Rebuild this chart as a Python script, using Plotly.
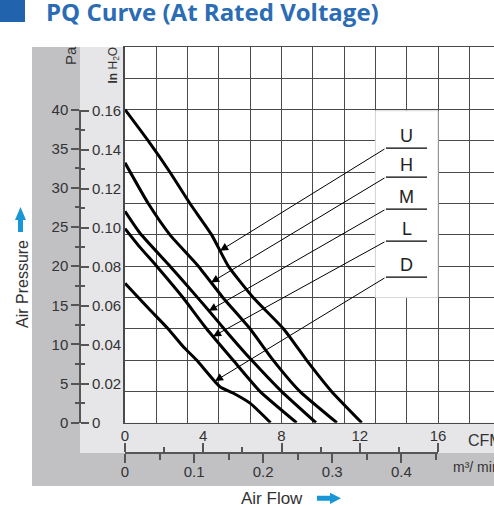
import numpy as np
import plotly.graph_objects as go

# ---------------- data ----------------
curve_names = ["U", "H", "M", "L", "D"]

u_flow = [0, 1.19, 2.3, 3.32, 4.43, 5.28, 6.55, 8.1, 9.28, 10.56, 12.1]
u_pressure = [40, 36, 32, 28, 24, 20, 16, 12, 8, 4, 0]

h_flow = [0, 1.19, 2.3, 3.75, 5.0, 6.39, 7.57, 8.94, 10.83]
h_pressure = [33.2, 28, 24, 20, 16, 12, 8, 4, 0]

m_flow = [0, 0.77, 2.3, 3.15, 4.29, 5.2, 6.47, 8.0, 9.76]
m_pressure = [27, 24.2, 20, 17.6, 14.3, 11.6, 8, 4, 0]

l_flow = [0, 0.77, 1.62, 2.96, 4.17, 5.52, 6.9, 8.77]
l_pressure = [24.8, 22.4, 20, 16, 12, 8, 4, 0]

d_flow = [0, 1.28, 2.2, 2.98, 3.66, 4.85, 5.52, 6.39, 7.44]
d_pressure = [17.8, 14.4, 12, 9.7, 8, 4.6, 3.8, 2.5, 0]

pa_ticks = [0, 5, 10, 15, 20, 25, 30, 35, 40]
inh2o_ticks = [0, 0.02, 0.04, 0.06, 0.08, 0.10, 0.12, 0.14, 0.16]
inh2o_labels = ["0", "0.02", "0.04", "0.06", "0.08", "0.10", "0.12", "0.14", "0.16"]
cfm_ticks = [0, 4, 8, 12, 16]
m3_ticks = [0, 0.1, 0.2, 0.3, 0.4]
m3_labels = ["0", "0.1", "0.2", "0.3", "0.4"]

PA_PER_INH2O = 249.0889
M3MIN_PER_CFM = 0.0283168

# ---------------- layout geometry (pixels) ----------------
FIG_W, FIG_H = 494, 505
ML, MT, MR, MB = 32, 47, 0, 19
PW, PH = FIG_W - ML - MR, FIG_H - MT - MB


def px(x):
    return (x - ML) / PW


def py(y):
    return (FIG_H - MB - y) / PH


X_LEFT, Y_BOTTOM = 125, 422.7
xd0, yd0 = px(X_LEFT), py(Y_BOTTOM)
CFM_PX = 19.5625
X_MAX = (FIG_W - X_LEFT) / CFM_PX
Y_MAX = 48
AX_X = px(80)      # left scale axis line
AX_Y = py(453)     # bottom scale axis line
sub_ydom = [yd0, yd0 + 40 / Y_MAX * (1 - yd0)]
sub_xdom = [xd0, xd0 + 16 * CFM_PX / PW]

FONT = "Liberation Sans, Arial, sans-serif"
TXT = "#333333"
GRID = "#4a4a4a"
TICKC = "#555555"

fig = go.Figure()

curves = [(u_flow, u_pressure), (h_flow, h_pressure), (m_flow, m_pressure),
          (l_flow, l_pressure), (d_flow, d_pressure)]
for name, (fx, fy) in zip(curve_names, curves):
    fig.add_trace(go.Scatter(x=fx, y=fy, mode="lines", name=name,
                             line=dict(color="black", width=3, shape="spline", smoothing=0.5),
                             hoverinfo="skip", showlegend=False))

# helper traces so the scale axes get drawn
for xa, ya in [("x2", "y2"), ("x3", "y3")]:
    fig.add_trace(go.Scatter(x=[None], y=[None], xaxis=xa, yaxis=ya,
                             showlegend=False, hoverinfo="skip"))

tickfont = dict(family=FONT, size=15, color=TXT)
common = dict(automargin=False, fixedrange=True, zeroline=False)

fig.update_layout(
    template="none",
    width=FIG_W, height=FIG_H,
    margin=dict(l=ML, r=MR, t=MT, b=MB, pad=0, autoexpand=False),
    paper_bgcolor="white", plot_bgcolor="rgba(0,0,0,0)",
    showlegend=False,
    xaxis=dict(domain=[xd0, 1], range=[0, X_MAX], tick0=0, dtick=1.6,
               showgrid=True, gridcolor=GRID, gridwidth=1,
               showticklabels=False, ticks="", showline=True, linecolor=GRID,
               linewidth=1, mirror=True, **common),
    yaxis=dict(domain=[yd0, 1], range=[0, Y_MAX], tick0=0, dtick=4,
               showgrid=True, gridcolor=GRID, gridwidth=1,
               showticklabels=False, ticks="", showline=True, linecolor=GRID,
               linewidth=1.5, mirror=False, **common),
    yaxis2=dict(anchor="free", position=AX_X, side="left", domain=sub_ydom,
                range=[0, 40], tickmode="array", tickvals=pa_ticks,
                ticktext=[str(v) for v in pa_ticks], ticks="outside", ticklen=8,
                tickwidth=1.5, tickcolor=TICKC, showline=True, linecolor=TICKC,
                linewidth=1.5, showgrid=False, tickfont=tickfont,
                minor=dict(tickmode="linear", tick0=2.5, dtick=5, ticks="outside",
                           ticklen=4, tickwidth=1.5, tickcolor=TICKC, showgrid=False),
                **common),
    yaxis3=dict(anchor="free", position=AX_X, side="right", domain=sub_ydom,
                range=[0, 40], tickmode="array",
                tickvals=[v * PA_PER_INH2O for v in inh2o_ticks],
                ticktext=inh2o_labels, ticks="outside", ticklen=8, tickwidth=1.5,
                tickcolor=TICKC, showline=False, showgrid=False,
                tickfont=tickfont,
                minor=dict(tickmode="array",
                           tickvals=[(v + 0.01) * PA_PER_INH2O for v in inh2o_ticks[:-1]],
                           ticks="outside", ticklen=4, tickwidth=1.5, tickcolor=TICKC,
                           showgrid=False),
                **common),
    xaxis2=dict(anchor="free", position=AX_Y, side="top", domain=sub_xdom,
                range=[0, 16], tickmode="array", tickvals=cfm_ticks,
                ticktext=[str(v) for v in cfm_ticks], ticks="outside", ticklen=9,
                tickwidth=1.5, tickcolor=TICKC, showline=True, linecolor=TICKC,
                linewidth=1.5, showgrid=False, tickfont=tickfont,
                ticklabelstandoff=-4,
                minor=dict(tickmode="linear", tick0=2, dtick=4, ticks="outside",
                           ticklen=5, tickwidth=1.5, tickcolor=TICKC, showgrid=False),
                **common),
    xaxis3=dict(anchor="free", position=AX_Y, side="bottom", domain=sub_xdom,
                range=[0, 16 * M3MIN_PER_CFM], tickmode="array", tickvals=m3_ticks,
                ticktext=m3_labels, ticks="outside", ticklen=9, tickwidth=1.5,
                tickcolor=TICKC, showline=False, showgrid=False,
                tickfont=tickfont, ticklabelstandoff=-4,
                minor=dict(tickmode="array", tickvals=[0.05, 0.15, 0.25, 0.35, 0.45],
                           ticks="outside", ticklen=6, tickwidth=1.5, tickcolor=TICKC,
                           showgrid=False),
                **common),
)

DARK, LIGHT, BLUE = "#c1c1c4", "#e6e6e8", "#1a96d4"


def rect(x0, y0, x1, y1, color, layer="below", line=None):
    fig.add_shape(type="rect", xref="paper", yref="paper",
                  x0=px(x0), x1=px(x1), y0=py(y0), y1=py(y1),
                  fillcolor=color, layer=layer,
                  line=line if line else dict(width=0))


rect(32, 47, 80, 486, DARK)
rect(80, 453, FIG_W, 486, DARK)
rect(80, 47, X_LEFT, 453, LIGHT)
rect(X_LEFT, Y_BOTTOM, FIG_W, 453, LIGHT)
rect(0, 0, 25, 22, "#2163ad")

# white label box inside the grid
fig.add_shape(type="rect", xref="x", yref="y", x0=12.8, x1=16.0, y0=16.0, y1=39.85,
              fillcolor="white", layer="above", line=dict(color="#dadada", width=1))


def path(points):
    return "M " + " L ".join(f"{px(a):.5f},{py(b):.5f}" for a, b in points) + " Z"


# blue arrows
fig.add_shape(type="path", xref="paper", yref="paper", layer="above",
              path=path([(18, 232), (18, 220), (15, 220), (20.5, 207), (26, 220), (23, 220), (23, 232)]),
              fillcolor=BLUE, line=dict(width=0))
fig.add_shape(type="path", xref="paper", yref="paper", layer="above",
              path=path([(317, 495.7), (330, 495.7), (330, 492.7), (341, 498.3), (330, 504), (330, 500.7), (317, 500.7)]),
              fillcolor=BLUE, line=dict(width=0))

# curve labels with leader arrows
label_line_y = [35.08, 31.38, 27.29, 23.2, 18.6]
arrow_tip_x = [4.86, 4.40, 4.29, 4.50, 4.60]
tail_x, line_x1, label_x = 13.34, 15.44, 14.39
for name, (fx, fy), ly, tx in zip(curve_names, curves, label_line_y, arrow_tip_x):
    ty = float(np.interp(tx, fx, fy))
    fig.add_annotation(x=tx, y=ty, ax=tail_x, ay=ly, axref="x", ayref="y",
                       xref="x", yref="y", text="", showarrow=True,
                       arrowhead=2, arrowsize=1.6, arrowwidth=1, arrowcolor="black",
                       standoff=0, startstandoff=0)
    fig.add_shape(type="line", xref="x", yref="y", x0=tail_x, x1=line_x1, y0=ly, y1=ly,
                  line=dict(color="black", width=1.2), layer="above")
    fig.add_annotation(x=label_x, y=ly, xref="x", yref="y", text=name, showarrow=False,
                       xanchor="center", yanchor="bottom", yshift=0,
                       font=dict(family=FONT, size=18, color="#222"))


def text(t, x, y, size, xanchor="center", angle=0, color=TXT, family=FONT, yanchor="middle"):
    fig.add_annotation(x=px(x), y=py(y), xref="paper", yref="paper", text=t,
                       showarrow=False, xanchor=xanchor, yanchor=yanchor,
                       textangle=angle, font=dict(family=family, size=size, color=color))


text("<b>PQ Curve (At Rated Voltage)</b>", 44, 12, 24, xanchor="left",
     color="#2b6cb4", family="Open Sans, sans-serif")
text("Air Pressure", 22, 284, 16, angle=-90)
text("Air Flow", 272, 498, 17)
text("Pa", 71, 56, 15, angle=-90)
text("<b>In</b> H<sub>2</sub>O", 113.5, 65, 12, angle=-90)
text("CFM", 466, 440, 16, xanchor="left")
text("m³/ min", 451, 467, 14, xanchor="left")

fig.write_html("out.html", config={"displayModeBar": False},
               post_script="document.body.style.margin='0px';document.body.style.overflow='hidden';")
